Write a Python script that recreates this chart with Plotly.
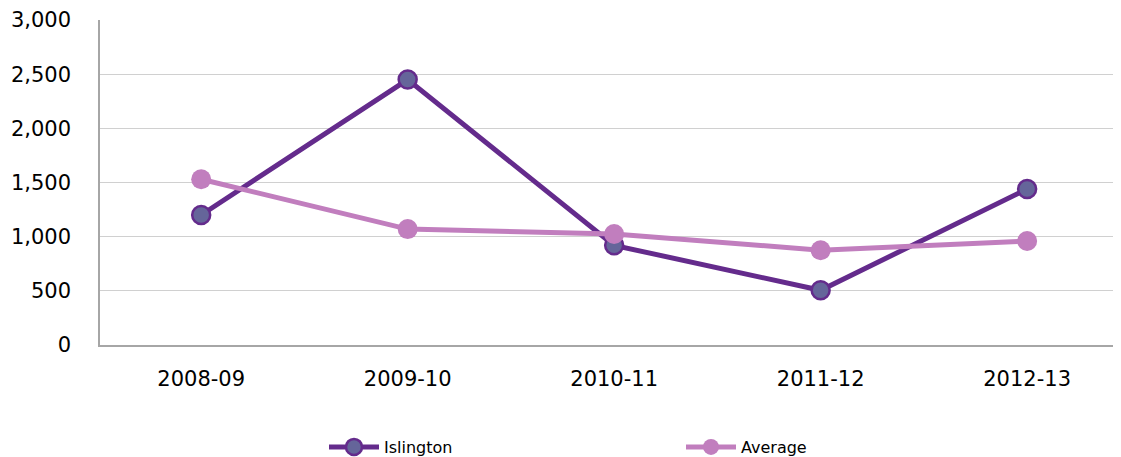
import plotly.graph_objects as go

YEARS = ["2008-09", "2009-10", "2010-11", "2011-12", "2012-13"]
ISLINGTON = [1200, 2450, 920, 505, 1440]
AVERAGE = [1530, 1070, 1025, 875, 960]

FONT = "Verdana, DejaVu Sans, sans-serif"
ISL_LINE = "#642B8C"
ISL_FILL = "#65659A"
AVG_COLOR = "#C17EBE"

fig = go.Figure()
fig.add_trace(
    go.Scatter(
        x=YEARS,
        y=ISLINGTON,
        name="Islington",
        mode="lines+markers",
        line=dict(color=ISL_LINE, width=5),
        marker=dict(size=18, color=ISL_FILL, line=dict(color=ISL_LINE, width=2.5)),
    )
)
fig.add_trace(
    go.Scatter(
        x=YEARS,
        y=AVERAGE,
        name="Average",
        mode="lines+markers",
        line=dict(color=AVG_COLOR, width=5),
        marker=dict(size=20, color=AVG_COLOR),
    )
)

# the page body adds an 8px offset, margins are trimmed to compensate
fig.update_layout(
    width=1121,
    height=457,
    plot_bgcolor="white",
    paper_bgcolor="white",
    font=dict(family=FONT, color="#000000"),
    margin=dict(l=92, r=4, t=12, b=120, autoexpand=False),
    showlegend=True,
    legend=dict(
        orientation="h",
        xref="container",
        yref="container",
        x=316 / 1121,
        y=1 - 439 / 457,
        xanchor="left",
        yanchor="middle",
        font=dict(size=16, family=FONT),
        entrywidth=292,
        entrywidthmode="pixels",
        itemwidth=50,
    ),
)
fig.update_xaxes(
    type="category",
    range=[-0.49, 4.474],
    automargin=False,
    showline=True,
    linecolor="#A6A6A6",
    linewidth=1.5,
    showgrid=False,
    ticks="",
    tickfont=dict(size=21),
    ticklabelstandoff=14,
)
fig.update_yaxes(
    range=[0, 3000],
    tickvals=[0, 500, 1000, 1500, 2000, 2500, 3000],
    tickformat=",",
    automargin=False,
    showline=True,
    linecolor="#A6A6A6",
    linewidth=1.5,
    gridcolor="#D0D0D0",
    gridwidth=1,
    zeroline=False,
    ticks="",
    tickfont=dict(size=21),
    ticklabelstandoff=23,
)

fig.write_html("out.html")
